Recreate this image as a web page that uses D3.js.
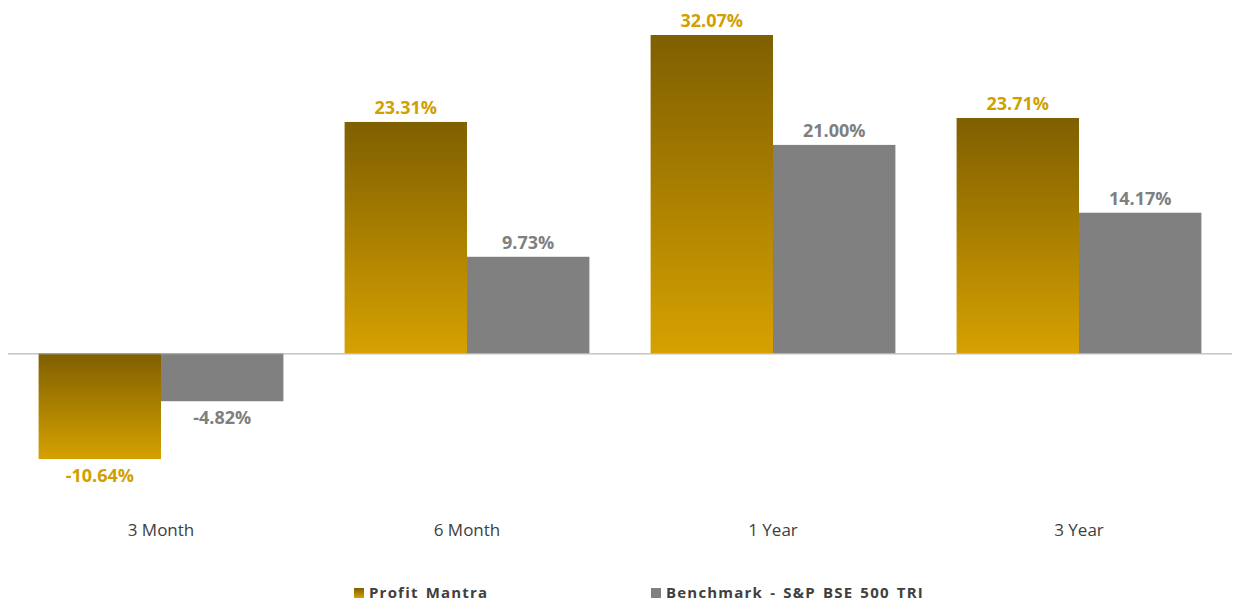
<!DOCTYPE html>
<html>
<head>
<meta charset="utf-8">
<script src="https://cdn.jsdelivr.net/npm/d3@7"></script>
<style>
  body { margin: 0; background: #fff; }
  text { font-family: "Open Sans", "Noto Sans", sans-serif; }
</style>
</head>
<body>
<div id="chart"></div>
<script>
let width = 1234,
    height = 602,
    margin = ({ top: 35, right: 2, bottom: 143, left: 8 });

const periods = ["3 Month", "6 Month", "1 Year", "3 Year"];
const seriesNames = ["Profit Mantra", "Benchmark - S&P BSE 500 TRI"];
const profitMantra = [-10.64, 23.31, 32.07, 23.71];
const benchmark = [-4.82, 9.73, 21.00, 14.17];

const data = periods.map((p, i) => ({ period: p, values: [profitMantra[i], benchmark[i]] }));

const svg = d3.select("#chart")
    .append("svg")
    .attr("width", width)
    .attr("height", height);

const defs = svg.append("defs");
const grad = defs.append("linearGradient")
    .attr("id", "gold")
    .attr("x1", 0).attr("y1", 0).attr("x2", 0).attr("y2", 1);
grad.append("stop").attr("offset", "0%").attr("stop-color", "#7f5f00");
grad.append("stop").attr("offset", "100%").attr("stop-color", "#d6a100");

const fills = ["url(#gold)", "#808080"];
const labelColors = ["#d1a000", "#7f7f7f"];

let x = d3.scaleBand()
    .domain(periods)
    .range([margin.left, width - margin.right])
    .paddingInner(0.2)
    .paddingOuter(0.1);

let xs = d3.scaleBand()
    .domain([0, 1])
    .range([0, x.bandwidth()]);

let y = d3.scaleLinear()
    .domain([-10.64, 32.07])
    .range([459, margin.top]);

const groups = svg.append("g")
    .selectAll("g")
    .data(data)
    .join("g")
    .attr("transform", d => `translate(${x(d.period)},0)`);

groups.selectAll("rect")
    .data(d => d.values.map((v, i) => ({ v, i })))
    .join("rect")
    .attr("x", d => xs(d.i))
    .attr("width", xs.bandwidth())
    .attr("y", d => y(Math.max(0, d.v)))
    .attr("height", d => Math.abs(y(d.v) - y(0)))
    .attr("fill", d => fills[d.i]);

groups.selectAll("text.val")
    .data(d => d.values.map((v, i) => ({ v, i })))
    .join("text")
    .attr("class", "val")
    .attr("x", d => xs(d.i) + xs.bandwidth() / 2)
    .attr("y", d => d.v >= 0 ? y(d.v) - 8 : y(d.v) + 23)
    .attr("text-anchor", "middle")
    .attr("font-size", 18)
    .attr("font-weight", "bold")
    .attr("fill", d => labelColors[d.i])
    .text(d => d.v.toFixed(2) + "%");

// zero line
svg.append("line")
    .attr("x1", margin.left)
    .attr("x2", width - margin.right)
    .attr("y1", y(0) + 0.5)
    .attr("y2", y(0) + 0.5)
    .attr("stroke", "#a6a6a6")
    .attr("stroke-width", 1);

// category labels
svg.append("g")
    .selectAll("text")
    .data(periods)
    .join("text")
    .attr("x", d => x(d) + x.bandwidth() / 2)
    .attr("y", 536)
    .attr("text-anchor", "middle")
    .attr("font-size", 17)
    .attr("fill", "#404040")
    .text(d => d);

// legend
const legendX = [354, 651];
const legend = svg.append("g")
    .selectAll("g")
    .data(seriesNames)
    .join("g")
    .attr("transform", (d, i) => `translate(${legendX[i]},588)`);

legend.append("rect")
    .attr("width", 10)
    .attr("height", 10)
    .attr("fill", (d, i) => fills[i]);

legend.append("text")
    .attr("x", 15)
    .attr("y", 10)
    .attr("font-size", 15)
    .attr("font-weight", "bold")
    .attr("letter-spacing", 1.2)
    .attr("word-spacing", 2)
    .attr("fill", "#404040")
    .text(d => d);
</script>
</body>
</html>
